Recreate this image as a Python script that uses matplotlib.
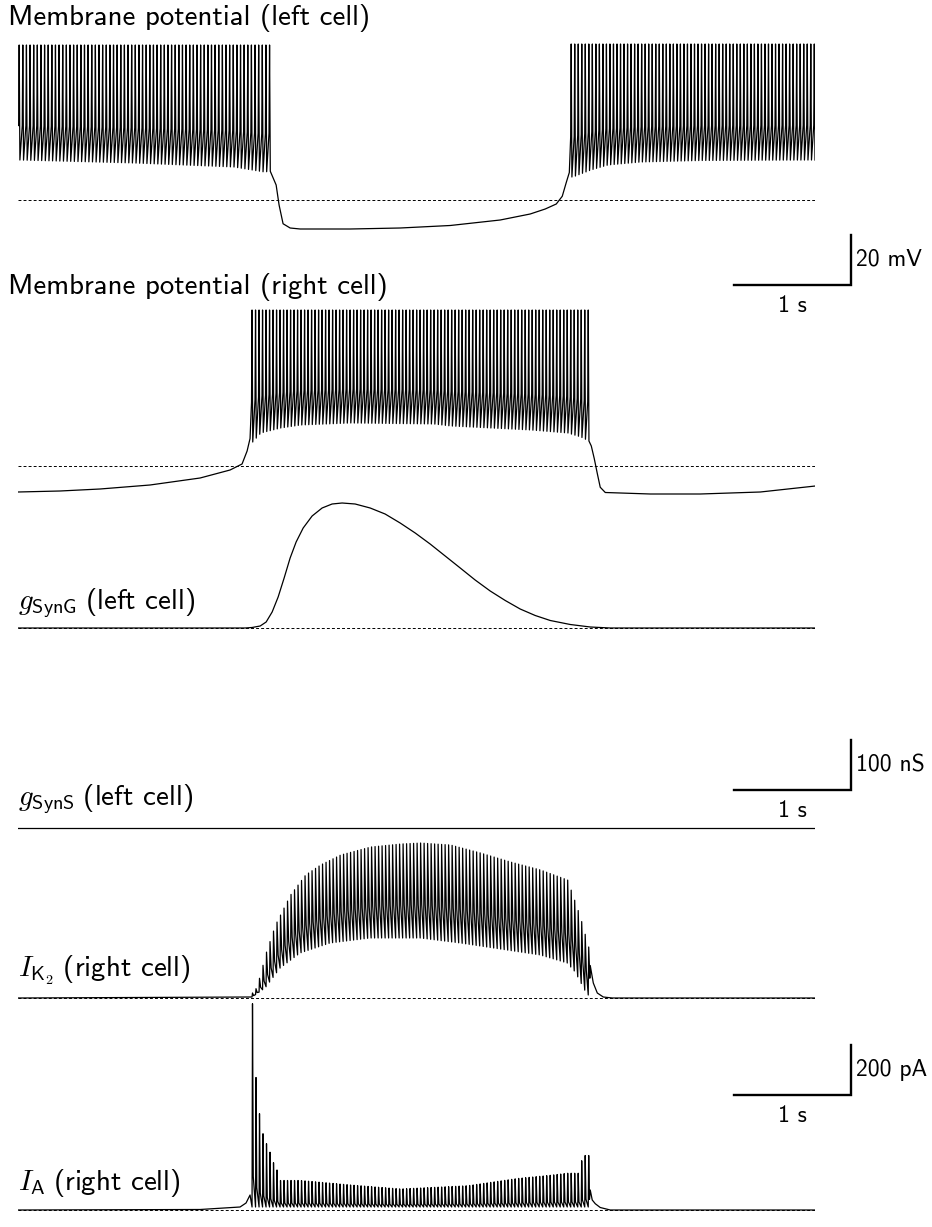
import matplotlib
matplotlib.use('Agg')
import matplotlib.pyplot as plt
import numpy as np

plt.rcParams['font.family'] = ['cmss10', 'DejaVu Sans']
plt.rcParams['mathtext.fontset'] = 'cm'

W, H = 932, 1227
T_END = 6.78          # s, full trace length
PX_PER_S = 117.5      # 1 s scale bar

# ---- membrane potential, left cell (mV) ----
vl_burst1 = dict(t0=0.01, t1=2.14, n=70,
                 peak_t=[0.0, 2.14], peak_v=[12.0, 12.0],
                 trough_t=[0.0, 0.98, 1.83, 2.09, 2.14],
                 trough_v=[-34.0, -35.2, -36.8, -38.8, -38.5])
vl_hyper_t = [2.16, 2.196, 2.221, 2.255, 2.315, 2.40, 2.826, 3.251, 3.677,
              4.102, 4.357, 4.485, 4.579, 4.63, 4.664, 4.69]
vl_hyper_v = [-40.0, -44.0, -52.0, -59.5, -61.2, -61.6, -61.6, -61.2, -60.2,
              -58.0, -55.6, -53.6, -51.6, -48.5, -43.0, -39.0]
vl_burst2 = dict(t0=4.706, t1=6.774, n=70,
                 peak_t=[4.7, 6.78], peak_v=[12.4, 12.4],
                 trough_t=[4.715, 4.868, 5.013, 5.294, 5.804, 6.783],
                 trough_v=[-40.8, -38.0, -36.0, -34.8, -34.2, -34.0])

# ---- membrane potential, right cell (mV) ----
vr_pre_t = [0.0, 0.357, 0.698, 1.123, 1.549, 1.804, 1.906, 1.949, 1.974]
vr_pre_v = [-60.4, -60.0, -59.2, -57.6, -54.8, -51.6, -49.2, -44.0, -39.0]
vr_burst = dict(t0=1.991, t1=4.851, n=97,
                peak_t=[1.99, 4.85], peak_v=[12.4, 12.4],
                trough_t=[1.991, 2.06, 2.23, 2.40, 2.826, 3.532, 3.677, 4.357, 4.672, 4.783, 4.851],
                trough_v=[-40.4, -36.8, -34.8, -33.6, -32.8, -33.2, -34.0, -35.6, -36.8, -38.4, -40.0])
vr_post_t = [4.877, 4.902, 4.928, 4.953, 4.996, 5.379, 5.804, 6.315, 6.783]
vr_post_v = [-42.0, -47.0, -53.0, -58.5, -60.6, -61.2, -61.2, -60.4, -58.0]

# ---- synaptic conductances, left cell (nS) ----
gsyng_t = [0.0, 1.932, 1.991, 2.06, 2.111, 2.162, 2.213, 2.264, 2.315, 2.366, 2.426,
           2.502, 2.587, 2.672, 2.757, 2.868, 2.996, 3.123, 3.251, 3.379, 3.506,
           3.634, 3.762, 3.889, 4.017, 4.145, 4.272, 4.40, 4.528, 4.698, 4.868, 5.038, 6.783]
gsyng_v = [0, 0, 1, 4, 12, 32, 62, 100, 140, 172, 200,
           224, 240, 248, 250, 248, 240, 228, 210, 190, 168,
           144, 120, 96, 74, 55, 38, 25, 15, 7, 2, 0, 0]
gsyns_t = [0.0, 6.783]
gsyns_v = [0.0, 0.0]

# ---- currents, right cell (pA) ----
ik2_peak_t = [1.991, 2.017, 2.06, 2.102, 2.187, 2.315, 2.443, 2.570, 2.741, 2.996,
              3.251, 3.421, 3.677, 3.932, 4.187, 4.443, 4.672, 4.740, 4.783, 4.851]
ik2_peak_v = [20, 32, 92, 172, 292, 412, 492, 532, 572, 604,
              616, 620, 612, 580, 544, 512, 472, 380, 320, 204]
ik2_trough_t = [1.991, 2.102, 2.230, 2.40, 2.655, 2.996, 3.421, 3.762, 4.102, 4.443, 4.672, 4.740, 4.843]
ik2_trough_v = [4, 40, 120, 180, 220, 240, 240, 220, 196, 172, 140, 104, 12]
ik2_post_t = [4.868, 4.894, 4.928, 4.979, 5.055, 6.783]
ik2_post_v = [130, 60, 20, 4, 0, 0]

ia_pre_t = [0.0, 1.549, 1.762, 1.889, 1.940, 1.974]
ia_pre_v = [0, 2, 8, 12, 28, 60]
ia_first_peaks = [825, 530, 385, 305, 265, 231, 189, 160]
ia_peak_t = [2.40, 2.826, 3.251, 3.821, 4.247, 4.528, 4.672]
ia_peak_v = [118, 100, 84, 97, 126, 139, 147]
ia_last_peaks = [197, 218, 218]
ia_trough_t = [1.991, 4.851]
ia_trough_v = [12, 12]
ia_post_t = [4.868, 4.885, 4.911, 4.953, 5.038, 6.783]
ia_post_v = [80, 40, 25, 10, 0, 0]


def spike_times(b):
    return np.linspace(b['t0'], b['t1'], b['n'])


def voltage_spikes(b):
    ts = spike_times(b)
    pk = np.interp(ts, b['peak_t'], b['peak_v'])
    tr = np.interp(ts, b['trough_t'], b['trough_v'])
    d = np.diff(ts).mean()
    tt, vv = [], []
    for i in range(len(ts)):
        amp = pk[i] - tr[i]
        tt += [ts[i] - 0.15 * d, ts[i], ts[i] + 0.2 * d]
        vv += [tr[i] + 0.3 * amp, pk[i], tr[i]]
    return np.array(tt), np.array(vv)


def current_spikes(ts, pk, tr, mid_at, mid_frac):
    d = np.diff(ts).mean()
    tt, vv = [], []
    for i in range(len(ts)):
        amp = pk[i] - tr[i]
        tt += [ts[i], ts[i] + 0.13 * d, ts[i] + mid_at * d]
        vv += [tr[i], pk[i], tr[i] + mid_frac * amp]
    return np.array(tt), np.array(vv)


fig = plt.figure(figsize=(W / 100, H / 100), dpi=100)
X0, X1 = 18, 815


def panel(top, bottom, base_px, base_val, px_per_unit):
    ax = fig.add_axes([X0 / W, 1 - bottom / H, (X1 - X0) / W, (bottom - top) / H])
    ax.set_xlim(0, T_END)
    ax.set_ylim(base_val - (bottom - base_px) / px_per_unit,
                base_val + (base_px - top) / px_per_unit)
    ax.axis('off')
    return ax


def baseline(ax, val):
    ax.axhline(val, color='black', lw=0.7, ls=(0, (3, 2.2)), zorder=1)


def trace(ax, t, v):
    ax.plot(t, v, color='black', lw=0.9, zorder=2)


MV_PX = 2.5     # px per mV  (20 mV = 50 px)
NS_PX = 0.5     # px per nS  (100 nS = 50 px)
PA_PX = 0.25    # px per pA  (200 pA = 50 px)

# left cell voltage
ax = panel(38, 240, 200, -50, MV_PX)
baseline(ax, -50)
t1, v1 = voltage_spikes(vl_burst1)
t2, v2 = voltage_spikes(vl_burst2)
trace(ax, np.concatenate([t1, vl_hyper_t, t2]), np.concatenate([v1, vl_hyper_v, v2]))

# right cell voltage
ax = panel(305, 500, 466, -50, MV_PX)
baseline(ax, -50)
tb, vb = voltage_spikes(vr_burst)
trace(ax, np.concatenate([vr_pre_t, tb, vr_post_t]), np.concatenate([vr_pre_v, vb, vr_post_v]))

# g SynG
ax = panel(495, 640, 628, 0, NS_PX)
baseline(ax, 0)
trace(ax, gsyng_t, gsyng_v)

# g SynS
ax = panel(810, 840, 828, 0, NS_PX)
trace(ax, gsyns_t, gsyns_v)

# I K2
ts = spike_times(vr_burst)
ax = panel(835, 1005, 998, 0, PA_PX)
baseline(ax, 0)
pk = np.interp(ts, ik2_peak_t, ik2_peak_v)
tr = np.interp(ts, ik2_trough_t, ik2_trough_v)
tk, vk = current_spikes(ts, pk, tr, 0.45, 0.35)
trace(ax, np.concatenate([[0.0], tk, ik2_post_t]), np.concatenate([[0.0], vk, ik2_post_v]))

# I A
ax = panel(995, 1227, 1210, 0, PA_PX)
baseline(ax, 0)
pk = np.interp(ts, ia_peak_t, ia_peak_v)
pk[:len(ia_first_peaks)] = ia_first_peaks
pk[-len(ia_last_peaks):] = ia_last_peaks
tr = np.interp(ts, ia_trough_t, ia_trough_v)
ta, va = current_spikes(ts, pk, tr, 0.35, 0.15)
trace(ax, np.concatenate([ia_pre_t, ta, ia_post_t]), np.concatenate([ia_pre_v, va, ia_post_v]))

# overlay in pixel coordinates for scale bars and labels
ov = fig.add_axes([0, 0, 1, 1])
ov.set_xlim(0, W)
ov.set_ylim(H, 0)
ov.axis('off')
ov.patch.set_alpha(0)


def scale_bar(y_bottom, amount, px_per_unit, label):
    xr = 851
    ov.plot([xr - PX_PER_S, xr, xr], [y_bottom, y_bottom, y_bottom - amount * px_per_unit],
            color='black', lw=1.7, solid_joinstyle='miter')
    ov.text(xr + 5, y_bottom - amount * px_per_unit / 2, label, fontsize=17, va='center', ha='left')
    ov.text(xr - PX_PER_S / 2, y_bottom + 21, '1 s', fontsize=17, va='center', ha='center')


scale_bar(285, 20, MV_PX, '20 mV')
scale_bar(790, 100, NS_PX, '100 nS')
scale_bar(1095, 200, PA_PX, '200 pA')

LBL = 20.8
ov.text(8, 18, 'Membrane potential (left cell)', fontsize=LBL, va='center', ha='left')
ov.text(8, 287, 'Membrane potential (right cell)', fontsize=LBL, va='center', ha='left')
ov.text(18, 604, r'$g_{\mathsf{SynG}}\;$(left cell)', fontsize=LBL, va='center', ha='left')
ov.text(18, 800, r'$g_{\mathsf{SynS}}\;$(left cell)', fontsize=LBL, va='center', ha='left')
ov.text(18, 970, r'$I_{\mathsf{K}_{2}}\;$(right cell)', fontsize=LBL, va='center', ha='left')
ov.text(18, 1183, r'$I_{\mathsf{A}}\;$(right cell)', fontsize=LBL, va='center', ha='left')

fig.savefig('out.png', dpi=100)
